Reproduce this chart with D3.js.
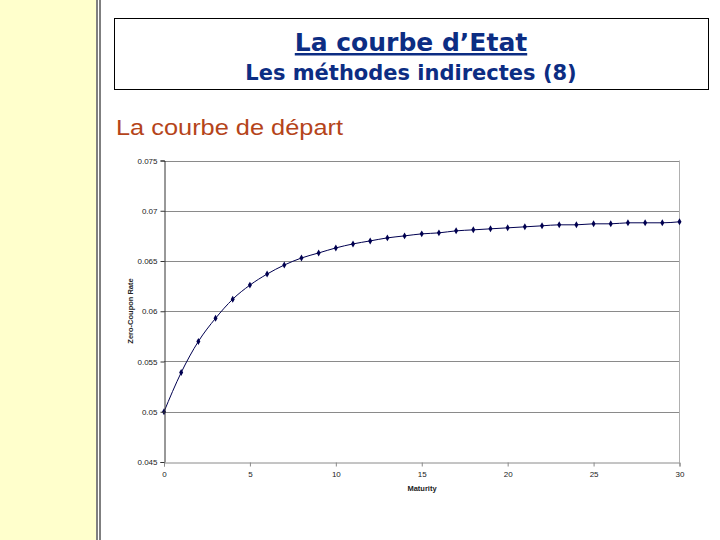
<!DOCTYPE html>
<html><head><meta charset="utf-8">
<script src="https://cdn.jsdelivr.net/npm/d3@7"></script>
<style>html,body{margin:0;padding:0;background:#fff;}svg{display:block;}</style>
</head><body>
<svg id="c" width="720" height="540"></svg>
<script>
const maturities = [0,1,2,3,4,5,6,7,8,9,10,11,12,13,14,15,16,17,18,19,20,21,22,23,24,25,26,27,28,29,30];
const rates = [0.0500,0.0539,0.0570,0.0593,0.0612,0.0626,0.0637,0.0646,0.0653,0.0658,0.0663,0.0667,0.0670,0.0673,0.0675,0.0677,0.0678,0.0680,0.0681,0.0682,0.0683,0.0684,0.0685,0.0686,0.0686,0.0687,0.0687,0.0688,0.0688,0.0688,0.0689];
const xTicks = [0,5,10,15,20,25,30];
const yTicks = [0.045,0.05,0.055,0.06,0.065,0.07,0.075];
const yTickLabels = ["0.045","0.05","0.055","0.06","0.065","0.07","0.075"];

const svg = d3.select("#c");
// left yellow panel
svg.append("rect").attr("x",0).attr("y",0).attr("width",96).attr("height",540).attr("fill","#ffffcc");
svg.append("line").attr("x1",97).attr("x2",97).attr("y1",0).attr("y2",540).attr("stroke","#000").attr("stroke-width",1);
svg.append("line").attr("x1",100).attr("x2",100).attr("y1",0).attr("y2",540).attr("stroke","#000").attr("stroke-width",1);

// title box
svg.append("rect").attr("x",114.5).attr("y",18.5).attr("width",594).attr("height",71).attr("fill","#fff").attr("stroke","#000").attr("stroke-width",1);
svg.append("text").attr("x",411).attr("y",51).attr("text-anchor","middle")
  .attr("font-family","'DejaVu Sans',sans-serif").attr("font-weight","bold").attr("font-size",25)
  .attr("fill","#0c2d83").attr("text-decoration","underline").text("La courbe d’Etat");
svg.append("text").attr("x",411).attr("y",80).attr("text-anchor","middle")
  .attr("font-family","'DejaVu Sans',sans-serif").attr("font-weight","bold").attr("font-size",21)
  .attr("fill","#0c2d83").text("Les méthodes indirectes (8)");
svg.append("text").attr("x",116).attr("y",135)
  .attr("font-family","Arial,'Liberation Sans',sans-serif").attr("font-size",22.5)
  .attr("textLength",227).attr("lengthAdjust","spacingAndGlyphs")
  .attr("fill","#b5441a").text("La courbe de départ");

// chart
const x = d3.scaleLinear().domain([0,30]).range([164,679.5]);
const y = d3.scaleLinear().domain([0.045,0.075]).range([462,160.5]);
const g = svg.append("g");
// gridlines
g.selectAll("line.grid").data(yTicks.slice(1)).enter().append("line")
  .attr("x1",164).attr("x2",679.5).attr("y1",d=>Math.round(y(d))+0.5).attr("y2",d=>Math.round(y(d))+0.5)
  .attr("stroke","#8a8a8a").attr("stroke-width",1);
// right border
g.append("line").attr("x1",679.5).attr("x2",679.5).attr("y1",160.5).attr("y2",462.5).attr("stroke","#b0b0b0");

const yAxis = d3.axisLeft(y).tickValues(yTicks).tickFormat((d,i)=>yTickLabels[i]).tickSize(4).tickPadding(3);
const ya = svg.append("g").attr("transform","translate(164.5,0)").call(yAxis);
ya.select(".domain").attr("stroke","#333");
ya.selectAll(".tick line").attr("stroke","#333");
ya.selectAll("text").attr("font-family","Arial,'Liberation Sans',sans-serif").attr("font-size",8).attr("fill","#222");

const xAxis = d3.axisBottom(x).tickValues(xTicks).tickSize(4).tickPadding(5);
const xa = svg.append("g").attr("transform","translate(0,462.5)").call(xAxis);
xa.select(".domain").attr("stroke","#8a8a8a");
xa.selectAll(".tick line").attr("stroke","#8a8a8a");
xa.selectAll("text").attr("font-family","Arial,'Liberation Sans',sans-serif").attr("font-size",8).attr("fill","#222");

svg.append("text").attr("transform","translate(133,311) rotate(-90)").attr("text-anchor","middle")
  .attr("font-family","Arial,'Liberation Sans',sans-serif").attr("font-weight","bold").attr("font-size",7.5).attr("fill","#222")
  .text("Zero-Coupon Rate");
svg.append("text").attr("x",422).attr("y",491).attr("text-anchor","middle")
  .attr("font-family","Arial,'Liberation Sans',sans-serif").attr("font-weight","bold").attr("font-size",7.5).attr("fill","#222")
  .text("Maturity");

const line = d3.line().x((d,i)=>x(maturities[i])).y(d=>y(d)).curve(d3.curveMonotoneX);
g.append("path").datum(rates).attr("d",line).attr("fill","none").attr("stroke","#000050").attr("stroke-width",1);
const sym = d3.symbol().type(d3.symbolDiamond).size(14);
g.selectAll("path.pt").data(rates).enter().append("path").attr("class","pt")
  .attr("transform",(d,i)=>`translate(${x(maturities[i])},${y(d)})`).attr("d",sym).attr("fill","#000050");
</script>
</body></html>
